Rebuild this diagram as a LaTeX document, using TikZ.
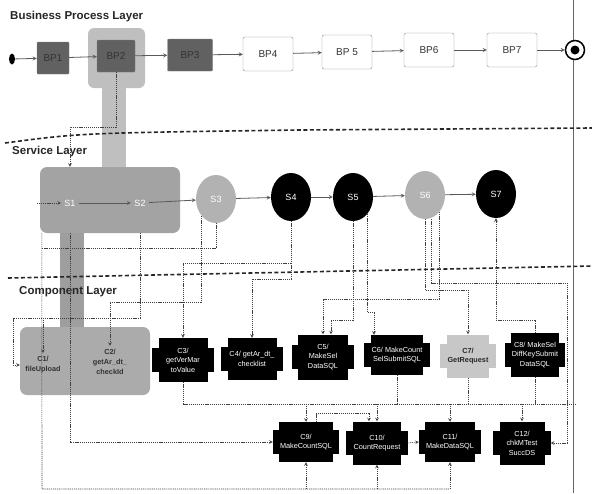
\documentclass[tikz,border=0pt]{standalone}
\usepackage{fontspec}
\setmainfont{Liberation Sans}
\usetikzlibrary{arrows, shapes.geometric, backgrounds}
\tikzset{
dotLink/.style={draw=black!75, line width=0.6pt, dash pattern=on 1.2pt off 0.9pt, -stealth},
layerLine/.style={draw=black!85, line width=1.6pt, dash pattern=on 4pt off 2.5pt}
}

\begin{document}
\begin{tikzpicture}[x=1pt, y=-1pt]
	\tikzset{layer/.style = {anchor=west, inner sep=0, text=black!85, font=\fontsize{11.5}{13}\selectfont\bfseries}}
	\tikzset{bpdark/.style = {draw=black!50, fill=black!62, text=black!80, minimum height=32pt, inner sep=1pt, rounded corners=1pt, font=\fontsize{10}{11}\selectfont}}
	\tikzset{bplight/.style = {draw=black!45, fill=white, text=black!80, minimum width=50pt, minimum height=34pt, rounded corners=2pt, font=\fontsize{10}{11}\selectfont}}
	\tikzset{svc/.style = {ellipse, inner sep=0, minimum width=40pt, minimum height=48pt, text=white, font=\fontsize{9}{10}\selectfont}}
	\tikzset{flow/.style = {draw=black!65, line width=0.8pt, -stealth}}
	\tikzset{compbox/.style = {fill=black, text=white, align=center, inner sep=1pt, font=\fontsize{7.3}{9.5}\selectfont}}
	\tikzset{comptext/.style = {align=center, text=black!80, font=\fontsize{7.3}{10}\selectfont\bfseries}}

	\useasboundingbox (0,0) rectangle (592,493);

	% grey bands
	\fill[black!25, rounded corners=6pt] (88,28) rectangle (145,88);
	\fill[black!25] (102,85) rectangle (126,170);
	\fill[black!38] (60,228) rectangle (84,330);
	\node[fill=black!36, rounded corners=7pt, minimum width=140pt, minimum height=66pt] (S_box) at (110,200) {};
	\node[fill=black!33, rounded corners=7pt, minimum width=130pt, minimum height=68pt] (C_box) at (85,361) {};

	\draw[black!60, line width=0.5pt] (573,0) -- (573,493);
	\draw[layerLine] (5,143) .. controls (80,133) .. (300,130) -- (592,128);
	\draw[layerLine] (8,278) -- (592,266);

	\node[layer] (L_1) at (10,17) {Business Process Layer};
	\node[layer] (L_2) at (12,152) {Service Layer};
	\node[layer] (L_3) at (19,292) {Component Layer};

	% business process row
	\node[ellipse, fill=black, inner sep=0, minimum width=6pt, minimum height=11pt] (BP_s) at (12,59) {};
	\node[bpdark, minimum width=32pt] (BP_1) at (53,58) {BP1};
	\node[bpdark, minimum width=38pt] (BP_2) at (116,56) {BP2};
	\node[bpdark, minimum width=45pt] (BP_3) at (190,55) {BP3};
	\node[bplight] (BP_4) at (268,54) {BP4};
	\node[bplight] (BP_5) at (347,52) {BP 5};
	\node[bplight] (BP_6) at (429,50) {BP6};
	\node[bplight] (BP_7) at (512,50) {BP7};
	\node[circle, draw=black, fill=white, line width=1.5pt, minimum size=19pt, inner sep=0,
		path picture={\fill[black] (path picture bounding box.center) circle (4.5pt);}] (BP_e) at (575,50) {};

	\draw[flow] (BP_s) to (BP_1);
	\draw[flow] (BP_1) to (BP_2);
	\draw[flow] (BP_2) to (BP_3);
	\draw[flow] (BP_3) to (BP_4);
	\draw[flow] (BP_4) to (BP_5);
	\draw[flow] (BP_5) to (BP_6);
	\draw[flow] (BP_6) to (BP_7);
	\draw[flow] (BP_7) to (BP_e);

	% service row
	\node[text=white, font=\fontsize{9}{10}\selectfont] (S_1) at (70,203) {S1};
	\node[text=white, font=\fontsize{9}{10}\selectfont] (S_2) at (140,203) {S2};
	\node[svc, fill=black!30] (S_3) at (216,199) {S3};
	\node[svc, fill=black] (S_4) at (291,197) {S4};
	\node[svc, fill=black] (S_5) at (353,197) {S5};
	\node[svc, fill=black!30] (S_6) at (425,195) {S6};
	\node[svc, fill=black] (S_7) at (496,194) {S7};

	\draw[flow] (S_1) to (S_2);
	\draw[flow] (S_2) to (S_3);
	\draw[flow] (S_3) to (S_4);
	\draw[flow] (S_4) to (S_5);
	\draw[flow] (S_5) to (S_6);
	\draw[flow] (S_6) to (S_7);

	% component row
	\node[comptext] (C_1) at (43,365) {C1/\\fileUpload};
	\node[comptext] (C_2) at (110,362) {C2/\\getAr\_dt\_\\checkId};
	\node[compbox, minimum width=49pt, minimum height=44pt] (C_3) at (183,360) {C3/\\getVerMar\\toValue};
	\node[compbox, minimum width=49pt, minimum height=42pt] (C_4) at (252,359) {C4/ getAr\_dt\_\\checklist};
	\node[compbox, minimum width=50pt, minimum height=45pt] (C_5) at (323,357) {C5/\\MakeSel\\DataSQL};
	\node[compbox, minimum width=50pt, minimum height=40pt] (C_6) at (397,355) {C6/ MakeCount\\SelSubmitSQL};
	\node[compbox, fill=black!22, text=black!85, minimum width=37pt, minimum height=43pt, font=\fontsize{7.3}{9.5}\selectfont\bfseries] (C_7) at (468,356) {C7/\\GetRequest};
	\node[compbox, minimum width=42pt, minimum height=44pt] (C_8) at (535,355) {C8/ MakeSel\\DiffKeySubmit\\DataSQL};
	\node[compbox, minimum width=48pt, minimum height=40pt] (C_9) at (306,442) {C9/\\MakeCountSQL};
	\node[compbox, minimum width=43pt, minimum height=43pt] (C_10) at (377,443) {C10/\\CountRequest};
	\node[compbox, minimum width=50pt, minimum height=40pt] (C_11) at (450,442) {C11/\\MakeDataSQL};
	\node[compbox, minimum width=45pt, minimum height=43pt] (C_12) at (522,443) {C12/\\chkMTest\\SuccDS};

	\begin{scope}[on background layer]
		\foreach \c in {C_3,C_4,C_5,C_6,C_8,C_9,C_10,C_11,C_12}
			\fill[black] ([xshift=-6pt,yshift=12pt]\c.west) rectangle ([xshift=6pt,yshift=-12pt]\c.east);
		\fill[black!22] ([xshift=-6pt,yshift=12pt]C_7.west) rectangle ([xshift=6pt,yshift=-12pt]C_7.east);
	\end{scope}

	% dotted links
	\draw[dotLink] (BP_2.south) |- (S_1 |- 0,127) -- (S_1 |- S_box.north);
	\draw[dotLink] ([xshift=-3pt]S_box.west |- S_1) -- (S_1.west);
	\draw[dotLink] (S_1 |- S_box.south) |- ([xshift=-6pt]C_9.west);
	\draw[dotLink, -] ([xshift=2pt]S_box.south west) -- (42,489) -- (C_11 |- 0,489);
	\foreach \c in {C_9,C_10,C_11}
		\draw[dotLink] (\c |- 0,489) -- (\c.south);
	\draw[dotLink, -] (S_3.south) |- (42,248);
	\draw[dotLink] (S_2 |- S_box.south) |- (13,318) |- (C_box.west |- C_1);
	\draw[dotLink] (C_1 |- 0,318) -- (C_1.north);
	\draw[dotLink] (S_3.south west) |- (C_2 |- 0,302) -- (C_2.north);
	\draw[dotLink] (S_4.south) |- (C_3 |- 0,263) -- (C_3.north);
	\draw[dotLink] (S_4.south) |- (C_4 |- 0,279) -- (C_4.north);
	\draw[dotLink] (S_5.south) |- ([xshift=8pt]C_5.north |- 0,320) -- ([xshift=8pt]C_5.north);
	\draw[dotLink] (S_6.south east) |- (C_5 |- 0,299) -- (C_5.north);
	\draw[dotLink] (S_5.south east) |- ([xshift=-23pt]C_6.north |- 0,312) -- ([xshift=-23pt]C_6.north);
	\draw[dotLink] (S_6.south) |- (C_7 |- 0,290) -- (C_7.north);
	\draw[dotLink] (C_8.north) |- (S_7.south |- 0,320) -- (S_7.south);
	\draw[dotLink] ([xshift=6pt]S_6.south) |- (567,283) |- ([xshift=6pt]C_12.east);
	\draw[dotLink, -] (C_3.south) |- (575,404);
	\foreach \c in {C_6,C_7,C_8}
		\draw[dotLink, -] (\c.south) -- (\c.south |- 0,404);
	\foreach \c in {C_9,C_10,C_11,C_12}
		\draw[dotLink] (\c.north |- 0,404) -- (\c.north);
	\draw[dotLink] ([xshift=10pt]C_9.north) -- ++(0,-9) -| ([xshift=-8pt]C_10.north);
	\draw[dotLink] ([xshift=6pt]C_10.east) -- ([xshift=-6pt]C_11.west);
\end{tikzpicture}
\end{document}
